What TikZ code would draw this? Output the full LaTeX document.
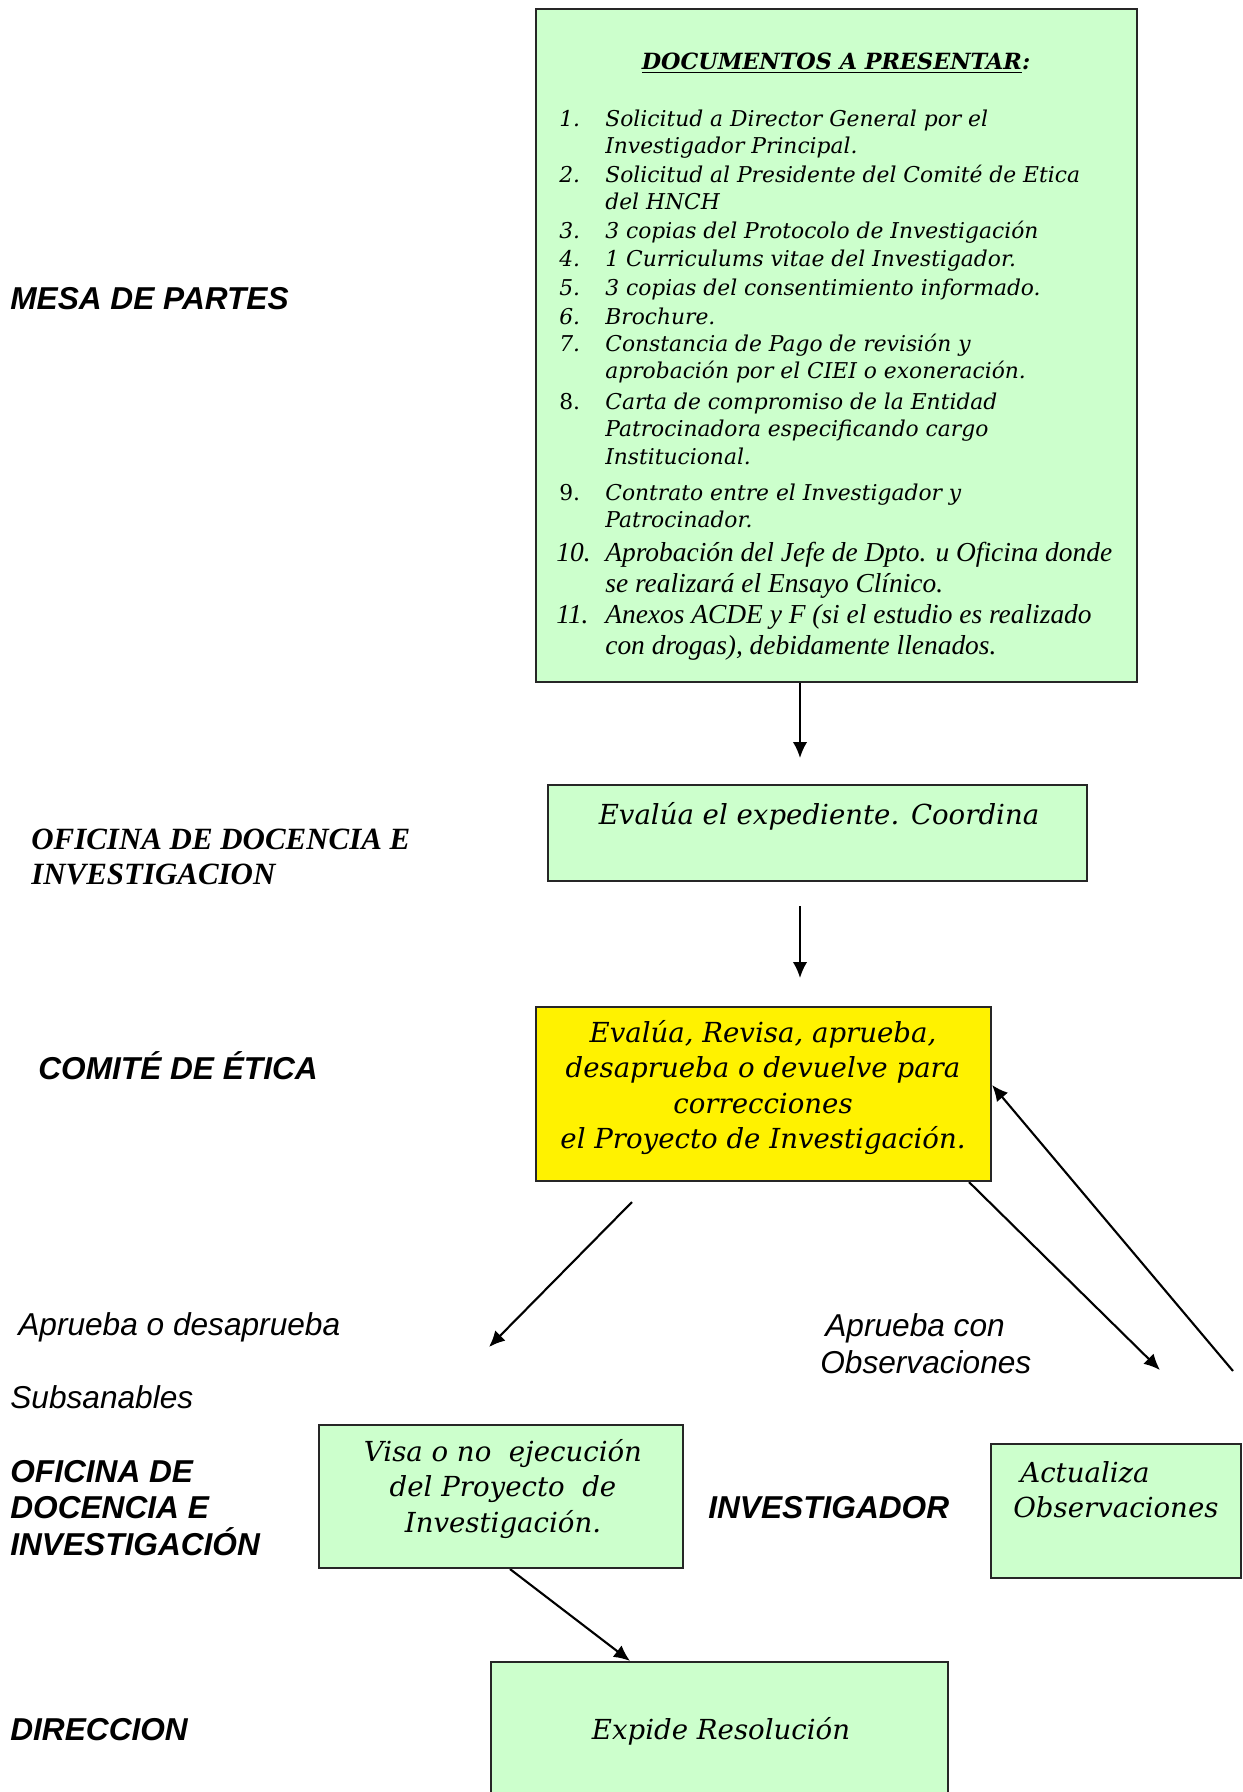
\documentclass[tikz,border=0pt]{standalone}
\usepackage{fontspec}
\setmainfont{DejaVu Serif}
\newfontfamily\lanefont{Liberation Sans}
\newfontfamily\timesfont{Liberation Serif}
\usepackage{tikz}
\usetikzlibrary{arrows.meta}
\usetikzlibrary{backgrounds,positioning}
\pgfdeclarelayer{edgelayer}
\pgfdeclarelayer{nodelayer}
\pgfsetlayers{background,edgelayer,nodelayer,main}
\definecolor{mint}{RGB}{204,255,204}
\tikzstyle{none}=[inner sep=0mm]
\tikzstyle{green box}=[rectangle,fill=mint,draw=black!85,line width=1.2pt,inner sep=0pt]
\tikzstyle{yellow box}=[green box,fill=yellow]
\tikzstyle{lane}=[inner sep=0pt,anchor=west,align=left,font=\lanefont\bfseries\itshape\fontsize{18}{20.8}\selectfont]
\tikzstyle{lane serif}=[inner sep=0pt,anchor=west,align=left,font=\timesfont\bfseries\itshape\fontsize{17.6}{19.4}\selectfont]
\tikzstyle{note}=[inner sep=0pt,anchor=west,align=left,font=\lanefont\itshape\fontsize{18}{21}\selectfont]
\tikzstyle{box text}=[inner sep=0pt,align=center,font=\itshape\fontsize{15.7}{20}\selectfont]
\tikzstyle{num}=[inner sep=0pt,anchor=base west,font=\itshape\fontsize{12.4}{15.6}\selectfont]
\tikzstyle{item}=[inner sep=0pt,anchor=base west,align=left,font=\itshape\fontsize{12.4}{15.6}\selectfont]
\tikzstyle{item times}=[item,font=\timesfont\itshape\fontsize{15.6}{17.6}\selectfont]
\tikzstyle{flow}=[-{Latex[length=3.2mm,width=2.9mm]},line width=1.2pt]

\begin{document}
\begin{tikzpicture}
	\useasboundingbox (0,0) rectangle (24.86,-35.84);
	\begin{pgfonlayer}{nodelayer}
		% boxes
		\node [style={green box},minimum width=12.02cm,minimum height=13.46cm] (docs) at (16.73,-6.91) {};
		\node [style={green box},minimum width=10.78cm,minimum height=1.92cm] (eval) at (16.35,-16.66) {};
		\node [style={yellow box},minimum width=9.10cm,minimum height=3.48cm] (comite) at (15.27,-21.88) {};
		\node [style={green box},minimum width=7.28cm,minimum height=2.86cm] (visa) at (10.02,-29.93) {};
		\node [style={green box},minimum width=5.00cm,minimum height=2.68cm] (actualiza) at (22.32,-30.22) {};
		\node [style={green box},minimum width=9.14cm,minimum height=3.40cm] (expide) at (14.39,-34.94) {};
	\end{pgfonlayer}
	% documentos (items anchored on their last line)
	\node [style=none,font=\bfseries\itshape\fontsize{12.7}{16}\selectfont] (titulo) at (16.72,-1.26) {\underline{DOCUMENTOS A PRESENTAR}:};
	\node [style=num] (n1) at (11.18,-2.52) {1.};
	\node [style=item] (i1) at (12.10,-3.07) {Solicitud a Director General por el\\Investigador Principal.};
	\node [style=num] (n2) at (11.18,-3.64) {2.};
	\node [style=item] (i2) at (12.10,-4.19) {Solicitud al Presidente del Comité de Etica\\del HNCH};
	\node [style=num] (n3) at (11.18,-4.76) {3.};
	\node [style=item] (i3) at (12.10,-4.76) {3 copias del Protocolo de Investigación};
	\node [style=num] (n4) at (11.18,-5.32) {4.};
	\node [style=item] (i4) at (12.10,-5.32) {1 Curriculums vitae del Investigador.};
	\node [style=num] (n5) at (11.18,-5.90) {5.};
	\node [style=item] (i5) at (12.10,-5.90) {3 copias del consentimiento informado.};
	\node [style=num] (n6) at (11.18,-6.48) {6.};
	\node [style=item] (i6) at (12.10,-6.48) {Brochure.};
	\node [style=num] (n7) at (11.18,-7.02) {7.};
	\node [style=item] (i7) at (12.10,-7.57) {Constancia de Pago de revisión y\\aprobación por el CIEI o exoneración.};
	\node [style=num,font=\upshape\fontsize{12.4}{15.6}\selectfont] (n8) at (11.18,-8.18) {8.};
	\node [style=item] (i8) at (12.10,-9.28) {Carta de compromiso de la Entidad\\Patrocinadora especificando cargo\\Institucional.};
	\node [style=num,font=\upshape\fontsize{12.4}{15.6}\selectfont] (n9) at (11.18,-10.00) {9.};
	\node [style=item] (i9) at (12.10,-10.55) {Contrato entre el Investigador y\\Patrocinador.};
	\node [style={item times}] (n10) at (11.12,-11.22) {10.};
	\node [style={item times}] (i10) at (12.10,-11.84) {Aprobación del Jefe de Dpto. u Oficina donde\\se realizará el Ensayo Clínico.};
	\node [style={item times}] (n11) at (11.12,-12.46) {11.};
	\node [style={item times}] (i11) at (12.10,-13.08) {Anexos ACDE y F (si el estudio es realizado\\con drogas), debidamente llenados.};
	% textos de las cajas
	\node [style={box text}] (t eval) at (16.38,-16.32) {Evalúa el expediente. Coordina};
	\node [style={box text}] (t comite) at (15.26,-21.75) {Evalúa, Revisa, aprueba,\\desaprueba o devuelve para\\correcciones\\ el Proyecto de Investigación.};
	\node [style={box text}] (t visa) at (10.06,-29.78) {Visa o no\ \ ejecución\\del Proyecto\ \ de\\Investigación.};
	\node [style={box text},anchor=west,align=left] (t actualiza) at (20.26,-29.80) {\hspace*{0.14cm}Actualiza\\Observaciones};
	\node [style={box text}] (t expide) at (14.42,-34.62) {Expide Resolución};
	% carriles
	\node [style=lane] (mesa) at (0.20,-5.98) {MESA DE PARTES};
	\node [style={lane serif}] (odi) at (0.62,-17.14) {OFICINA DE DOCENCIA E\\INVESTIGACION};
	\node [style=lane] (etica) at (0.76,-21.32) {COMITÉ DE ÉTICA};
	\node [style=note] (aprueba) at (0.36,-26.54) {Aprueba o desaprueba};
	\node [style=note] (subsanables) at (0.20,-27.94) {Subsanables};
	\node [style=lane] (odi2) at (0.20,-30.16) {OFICINA DE\\DOCENCIA E\\INVESTIGACIÓN};
	\node [style=lane] (investigador) at (14.16,-30.16) {INVESTIGADOR};
	\node [style=note] (con obs) at (16.40,-26.87) {\hspace*{0.1cm}Aprueba con\\Observaciones};
	\node [style=lane] (direccion) at (0.20,-34.60) {DIRECCION};
	% extremos libres
	\coordinate (a1) at (16.00,-15.16);
	\coordinate (a2s) at (16.00,-18.12);
	\coordinate (a2) at (16.00,-19.56);
	\coordinate (a3s) at (12.64,-24.04);
	\coordinate (a3) at (9.78,-26.94);
	\coordinate (a4s) at (19.38,-23.62);
	\coordinate (a4) at (23.20,-27.40);
	\coordinate (a5s) at (24.66,-27.42);
	\coordinate (a5) at (19.82,-21.70);
	\coordinate (a6s) at (10.20,-31.36);
	\coordinate (a6) at (12.60,-33.24);
	\begin{pgfonlayer}{edgelayer}
		\draw [style=flow] (docs.south -| a1) to (a1);
		\draw [style=flow] (a2s) to (a2);
		\draw [style=flow] (a3s) to (a3);
		\draw [style=flow] (comite.south -| a4s) to (a4);
		\draw [style=flow] (a5s) to (comite.east |- a5);
		\draw [style=flow] (visa.south -| a6s) to (expide.north -| a6);
	\end{pgfonlayer}
\end{tikzpicture}
\end{document}
